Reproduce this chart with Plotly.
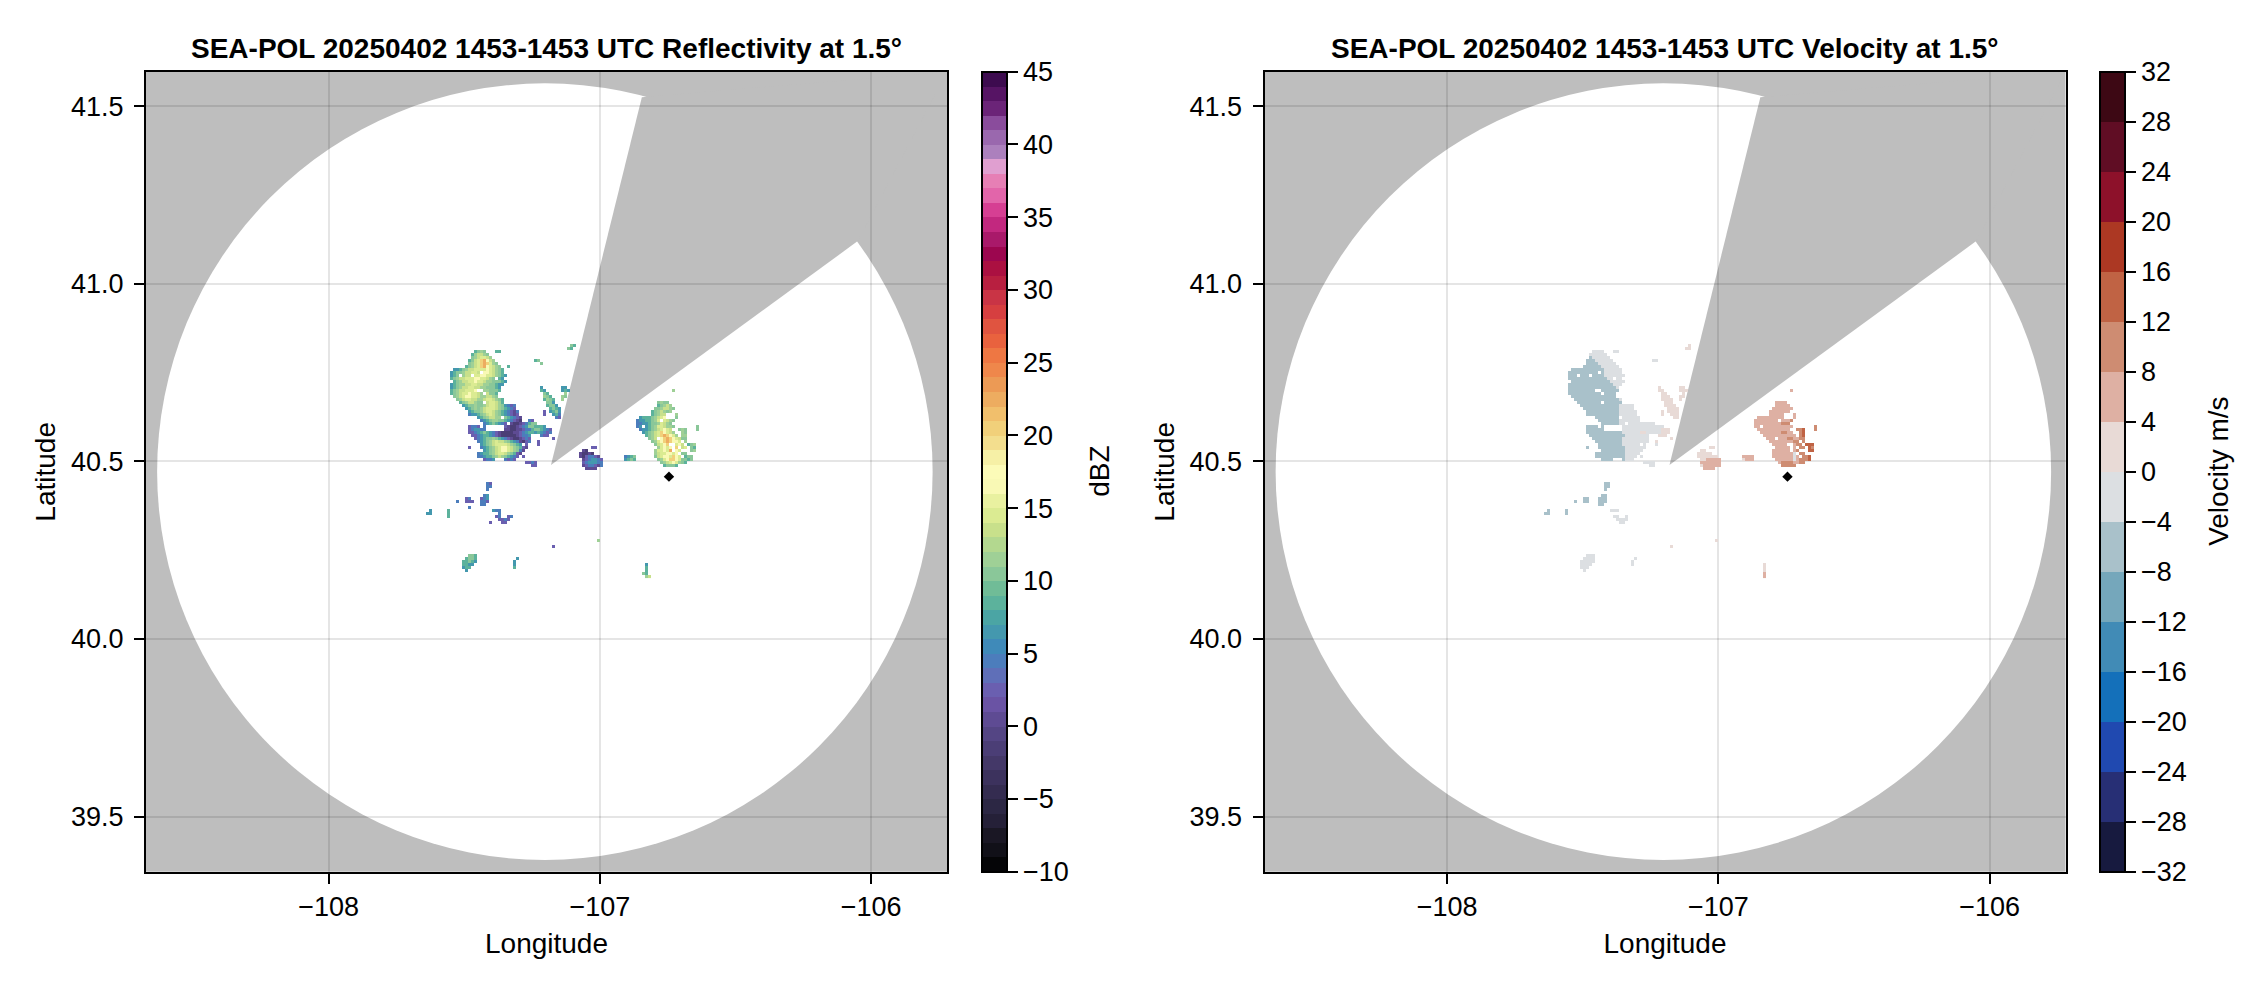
import re

import numpy as np
import plotly.graph_objects as go

# axis ranges
lon_range = [-108.673, -105.72]
lat_range = [39.345, 41.596]
lon_ticks = [-108, -107, -106]
lat_ticks = [39.5, 40.0, 40.5, 41.0, 41.5]

# coverage disc extents and the blocked sector
disc_lon = [-108.632, -105.773]
disc_lat = [39.378, 41.564]
blocked_lon = [-107.18, -106.845, -105.72, -106.049]
blocked_lat = [40.49, 41.525, 41.596, 41.12]

site_lon = [-106.745]
site_lat = [40.457]

# echo grid, top row first, "12." means 12 empty cells
grid_lon0 = -107.6577
grid_lat0 = 40.8935
grid_dlon = 0.011054
grid_dlat = 0.008443

refl_levels = dict(a=-2, b=0, c=2, d=4, e=6, f=8, g=10, h=11.5, i=13, j=14.5, k=16, l=20, m=22)
vel_levels = dict(A=-6, B=-2, C=2, D=6, E=10, F=14)

refl_rows = [
    "", "", "", "", "", "", "", "",
    "50.gf",
    "49.gf",
    "18.fghg3.ff",
    "17.fhiihg",
    "17.ghijjih",
    "16.fgijlmkih13.fg",
    "16.ghijlmljhg14.g",
    "15.fghijlmkjihg2.f",
    "11.eefghiijjjjkjihgf",
    "10.efgghiijji.kkjihgf",
    "10.efg.hii.jjkkjjihgfe",
    "10.fghiijjjkkjjihg.fe",
    "11.fghiijjkjjihhgggfe",
    "10.efghhiijjiihhggfee",
    "10.efghiijjiihhgggfe13.e6.ee",
    "10.fghiijjjk..hhgggf13.fe5.efe34.h",
    "10.fghijjkjjih.iggf15.gf5.h",
    "11.ghijkkjjihhiihg15.hgf3.hg",
    "12.ghijjiihhijjihgf13.fhgf2.h",
    "13.fghiihgg.ijjihf14.gge34.ghgg",
    "14.efgghgghijjihgedcd10.fgge33.fghih",
    "15.efghghijjjihgfedc11.fgfe31.gghiihg",
    "16.efgghijjihgfedcbd8.c1.efge30.fghihgh",
    "16.deefghijihgfedcbc8.c2.efd30.fghii3.h",
    "19.efghiihh.gfedcb11.dc26.efffghijk3.g",
    "20.defghhggfedcba2.dc34.deeffghj.jihg",
    "21.defgfedc.baabcdfgg33.ddeefgghjihg",
    "16.cddc.d6.cbaabcdeggfffe30.de.efghjjihhg7.g",
    "16.cdeedd6.bbaabbcddfggfedc29.deefghijkji2.ghg3.g",
    "16.ccdefgfedcbaaaabbcdeffefedcd30.efghijlkjih2.hg",
    "17.ccdeffedcbaaaaabcdde3.dcc32.fghijlmlkjh1.hh",
    "18.cdefgghgfedcbaabcdc7.c31.ghi.klmlkjigg",
    "19.defghijiihgfedbacd2.c37.ghjklmlkkj1.h",
    "20.efghijjjjihgfe.c3.c38.gijkl2.jki1.fgh",
    "16.c3.defghijkkjihgfcb21.cc20.hjkjk1.l1.ij1.gf",
    "21.efghijkkjihgdb19.ba22.hjjkjm1.kj3.gh",
    "19.deffghijjihgfcb19.baaba20.hijjkkjk1.gg",
    "19.ddeffghihgfedc1.c18.bacddcb8.defg6.gijkkjlkj1.fgg",
    "21.cdde3.dcdc22.bcdeedc7.efgf7.ghjkllkjggfg",
    "35.ccdc15.cdeeedd19.ghijkjhgf",
    "37.cc15.bcddcbd20.fgggf",
    "55.bbbb",
    "", "", "", "",
    "22.dc",
    "22.dd",
    "22.d",
    "",
    "21.de",
    "15.cd3.cde",
    "12.d2.ccc2.ddc",
    "20.dd",
    "16.d",
    "3.e5.f14.edd",
    "2.ee5.f16.d",
    "9.f15.cd2.cd",
    "26.ccdc",
    "23.c3.cc",
    "", "", "", "", "",
    "59.h",
    "",
    "44.c",
    "", "",
    "16.ggf",
    "15.fggf13.e",
    "14.ffgfe12.e",
    "14.ffee13.e43.e",
    "14.eff14.f43.f",
    "15.e59.f",
    "74.gf",
    "75.hi",
]

vel_rows = [
    "", "", "", "", "", "", "", "",
    "50.C",
    "49.CC",
    "18.BBBB3.BB",
    "17.BBBBBB",
    "17.ABBBBBB",
    "16.AAABBBBBB13.BB",
    "16.AAAABBBBBB",
    "15.AAAAAABBBBBB",
    "11.AAAAAAAAAAABBBBBB",
    "10.AAAAAAAAAA.ABBBBBB",
    "10.AAA.AAA.AAAABBBBBBB",
    "10.AAAAAAAAAAAAABB.BB",
    "11.AAAAAAAAAAAAABBBBB",
    "10.AAAAAAAAAAAAAAABBB",
    "10.AAAAAAAAAAAAAAAAB13.C6.CC",
    "10.AAAAAAAAA..AAAAAA13.CC5.CCC34.D",
    "10.AAAAAAAAAAA.AAAA15.CC5.C",
    "11.AAAAAAAAAAAAAAA15.CCC3.CC",
    "12.AAAAAAAAAAAAAAAB13.CCCC2.C",
    "13.AAAAAAAA.AAAAAA14.CCC34.DDDD",
    "14.AAAAAAAAAAAAABBBBB10.CCCC33.DDDDD",
    "15.AAAAAAAAAAAABBBBB11.CCCC31.DDDDDDD",
    "16.AAAAAAAAAAABBBBBB8.C1.CCCC30.DDDDDDD",
    "16.AAAAAAAAAAABBBBBB8.C2.CCC30.DDDDD3.D",
    "19.AAAAAAAA.BBBBBB11.CC26.DDDDDDDDD3.D",
    "20.AAAAAAABBBBBBB38.DDDDDDDD.DDDE",
    "21.AAAAAABB.BBBBBBBBB33.DDDDDDDDDEEE",
    "16.AAAA.A6.BBBBBBBBBBBBBB30.DD.DDDDDDDDDD7.E",
    "16.AAAAAA6.BBBBBBBBBBBBBCCC29.DDDDDDDDDDD2.EEF3.E",
    "16.AAAAAAAAAAAABBBBBBCCBBBBBCCC30.DDDDDDDEEDD2.EF",
    "17.AAAAAAAAAAAABBBBBBBB3.CCC32.DDDDDDDDDDD1.EF",
    "18.AAAAAAAAAABBBBBBBBB7.C31.DDD.DDDEEDDEE",
    "19.AAAAAAAAABBBBBBBBB2.C37.DDDDDDDDEE1.E",
    "20.AAAAAAAABBBBBB.B3.B38.DDDDD2.DEE1.FFF",
    "16.A3.AAAAAAAAABBBBBBB21.CC20.DDDDD1.D1.EE1.FE",
    "21.AAAAAAAABBBBBB19.CC22.DDDDDD1.DE3.FF",
    "19.AAAAAAAAAABBBBB19.CCCCC20.DDDDDDDB1.EE",
    "19.AAAAAAAAAABBBB1.B18.CCCCCCC8.DDDD6.DDDDDDDBD1.EEF",
    "21.AAAA3.ABBB22.CCDDDDD7.CDDD7.DDDDDDBDEEEF",
    "35.BBBB15.DDDDDDD19.DEEEEDDEE",
    "37.BB15.CDDDDDD20.EEEEE",
    "55.DDDD",
    "", "", "", "",
    "22.AA",
    "22.AA",
    "22.A",
    "",
    "21.AA",
    "15.AA3.AAA",
    "12.A2.AA3.AAA",
    "20.AA",
    "",
    "3.A5.A14.BBB",
    "2.AA5.A",
    "25.BB2.B",
    "26.BBBB",
    "27.BB",
    "", "", "", "", "",
    "59.C",
    "",
    "44.C",
    "", "",
    "16.BBB",
    "15.BBBB13.B",
    "14.BBBBB12.B",
    "14.BBBB13.B43.C",
    "14.BBB58.C",
    "15.B59.C",
    "75.D",
    "75.D",
]

# colorbar bins, lowest first
refl_colors = [
    "#050507", "#111018", "#1a1724", "#252038", "#2c2744",
    "#342c50", "#3c325d", "#443868", "#4b3e76", "#544584",
    "#5e4b93", "#6a53a4", "#6a5fb0", "#5f6fb8", "#4c7dbc",
    "#3f8ab9", "#4498ae", "#4ba5a4", "#5cb29c", "#70bc97",
    "#8ac799", "#9fd096", "#b3d88f", "#c8e08b", "#dbeb92",
    "#e9f1a0", "#f9f9b5", "#fcfbb8", "#f6f0a6", "#f3de8e",
    "#f1d07a", "#f1bf6c", "#edac60", "#ec9a55", "#ef874b",
    "#ee7743", "#e9623e", "#e05440", "#d63f40", "#c93445",
    "#b81f40", "#ab1041", "#9c064f", "#a9196a", "#c2287f",
    "#d63f93", "#e265aa", "#e67fb5", "#e09fd0", "#ac80bd",
    "#9a68ae", "#8a4c9c", "#6b2478", "#561464", "#3d0b4f",
]
vel_colors = [
    "#171a3f", "#272f75", "#2049b0", "#1470ba", "#418bb6", "#75a7bb", "#a9c1ca", "#dcdfe2",
    "#e8dad6", "#deb0a3", "#ce8c72", "#c06344", "#ac3823", "#8d112a", "#600d24", "#3d0814",
]
refl_ticks = [-10, -5, 0, 5, 10, 15, 20, 25, 30, 35, 40, 45]
vel_ticks = [-32, -28, -24, -20, -16, -12, -8, -4, 0, 4, 8, 12, 16, 20, 24, 28, 32]

W, H = 2262, 990
FONT = "Liberation Sans"
TICK_SIZE = 27
LABEL_SIZE = 28
plot_top, plot_bottom = 72, 871.7
panels = [
    dict(left=146, right=947, cb=981.5, label=1100),
    dict(left=1264.5, right=2065.5, cb=2099.5, label=2219),
]


def decode(rows, levels):
    z = np.full((len(rows), 100), np.nan)
    for r, row in enumerate(rows):
        text = re.sub(r"(\d+)\.", lambda m: "." * int(m[1]), row)
        for c, ch in enumerate(text):
            if ch != ".":
                z[r, c] = levels[ch]
    return z[::-1]


def steps(colors):
    out = []
    for i, c in enumerate(colors):
        out += [[i / len(colors), c], [(i + 1) / len(colors), c]]
    return out


fig = go.Figure()

specs = [
    dict(z=decode(refl_rows, refl_levels), colors=refl_colors, ticks=refl_ticks, title="dBZ",
         name="Reflectivity"),
    dict(z=decode(vel_rows, vel_levels), colors=vel_colors, ticks=vel_ticks, title="Velocity m/s",
         name="Velocity"),
]

shapes = []
annotations = []
for i, (panel, spec) in enumerate(zip(panels, specs)):
    xa = "x" if i == 0 else "x2"
    ya = "y" if i == 0 else "y2"
    fig.add_trace(go.Heatmap(
        z=spec["z"],
        x0=grid_lon0,
        dx=grid_dlon,
        y0=grid_lat0 - grid_dlat * (len(refl_rows) - 1),
        dy=grid_dlat,
        xaxis=xa,
        yaxis=ya,
        zmin=spec["ticks"][0],
        zmax=spec["ticks"][-1],
        colorscale=steps(spec["colors"]),
        hoverongaps=False,
        colorbar=dict(
            x=panel["cb"] / W,
            xanchor="left",
            xpad=0,
            y=1 - plot_bottom / H,
            yanchor="bottom",
            ypad=0,
            len=(plot_bottom - plot_top) / H,
            thickness=25,
            outlinecolor="black",
            outlinewidth=2,
            tickmode="array",
            tickvals=spec["ticks"],
            ticks="outside",
            ticklen=10,
            tickwidth=2,
            tickcolor="black",
            tickfont=dict(family=FONT, size=TICK_SIZE, color="black"),
        ),
    ))
    fig.add_trace(go.Scatter(
        x=site_lon,
        y=site_lat,
        xaxis=xa,
        yaxis=ya,
        mode="markers",
        marker=dict(symbol="diamond", size=8, color="black"),
        showlegend=False,
    ))

    shapes.append(dict(
        type="circle", xref=xa, yref=ya, layer="below",
        x0=disc_lon[0], x1=disc_lon[1], y0=disc_lat[0], y1=disc_lat[1],
        fillcolor="white", line_width=0,
    ))
    path = "M" + "L".join(f"{x},{y}" for x, y in zip(blocked_lon, blocked_lat)) + "Z"
    shapes.append(dict(
        type="path", xref=xa, yref=ya, layer="below", path=path,
        fillcolor="#bebebe", line_width=0,
    ))

    annotations.append(dict(
        text=f"<b>SEA-POL 20250402 1453-1453 UTC {spec['name']} at 1.5°</b>",
        xref="paper", yref="paper",
        x=(panel["left"] + panel["right"]) / 2 / W,
        xanchor="center",
        y=1 - 49 / H,
        yanchor="middle",
        showarrow=False,
        font=dict(family=FONT, size=LABEL_SIZE, color="black"),
    ))
    annotations.append(dict(
        text=spec["title"],
        xref="paper", yref="paper",
        x=panel["label"] / W,
        xanchor="center",
        y=1 - (plot_top + plot_bottom) / 2 / H,
        yanchor="middle",
        textangle=-90,
        showarrow=False,
        font=dict(family=FONT, size=LABEL_SIZE, color="black"),
    ))

    axis_common = dict(
        showgrid=True,
        gridcolor="rgba(0,0,0,0.1)",
        gridwidth=2,
        zeroline=False,
        showline=True,
        linecolor="black",
        linewidth=2,
        mirror=True,
        ticks="outside",
        ticklen=10,
        tickwidth=2,
        tickcolor="black",
        tickfont=dict(family=FONT, size=TICK_SIZE, color="black"),
    )
    x_key = "xaxis" if i == 0 else "xaxis2"
    y_key = "yaxis" if i == 0 else "yaxis2"
    fig.update_layout({
        x_key: dict(
            axis_common,
            domain=[panel["left"] / W, panel["right"] / W],
            range=lon_range,
            tickmode="array",
            tickvals=lon_ticks,
            anchor=ya,
            title=dict(text="Longitude", font=dict(family=FONT, size=LABEL_SIZE, color="black"), standoff=12),
        ),
        y_key: dict(
            axis_common,
            domain=[1 - plot_bottom / H, 1 - plot_top / H],
            range=lat_range,
            tickmode="array",
            tickvals=lat_ticks,
            tickformat=".1f",
            ticklabelstandoff=5,
            anchor=xa,
            title=dict(text="Latitude", font=dict(family=FONT, size=LABEL_SIZE, color="black"), standoff=7),
        ),
    })

fig.update_layout(
    width=W,
    height=H,
    autosize=False,
    margin=dict(l=0, r=0, t=0, b=0),
    paper_bgcolor="white",
    plot_bgcolor="#bebebe",
    showlegend=False,
    shapes=shapes,
    annotations=annotations,
)

fig.write_html(
    "out.html",
    config={"displayModeBar": False},
    post_script="document.body.style.margin='0';",
)
